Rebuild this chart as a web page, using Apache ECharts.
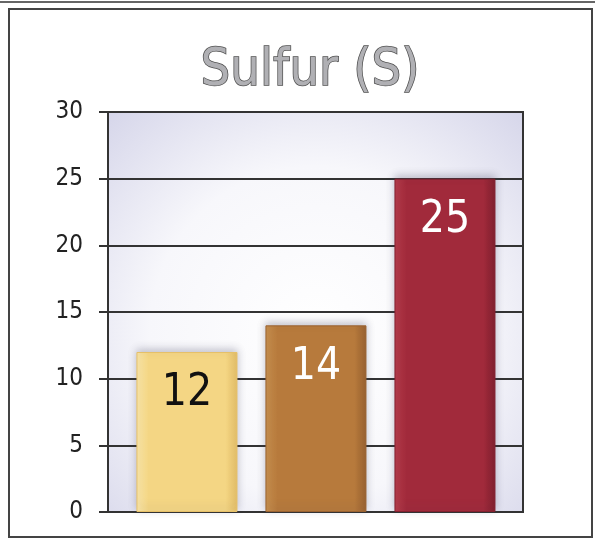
<!DOCTYPE html>
<html>
<head>
<meta charset="utf-8">
<script src="https://cdn.jsdelivr.net/npm/echarts@6/dist/echarts.min.js"></script>
<style>
  html, body { margin: 0; padding: 0; background: #fff; }
  #chart { width: 595px; height: 541px; }
</style>
</head>
<body>
<div id="chart"></div>
<script>
var categories = ['A', 'B', 'C'];
var values = [12, 14, 25];
var barColors = [
  ['#fbe7a8', '#f4d684', '#e6c068'],
  ['#c8904e', '#b77a3c', '#9a6230'],
  ['#b63c4a', '#a12a3b', '#82202e']
];
var labelColors = ['#111', '#fff', '#fff'];
var narrow = '"DejaVu Sans Condensed", "Liberation Sans Narrow", "Arial Narrow", sans-serif';

var chart = echarts.init(document.getElementById('chart'));

var seriesData = values.map(function (v, i) {
  var c = barColors[i];
  return {
    value: [i, v],
    name: categories[i],
    itemStyle: {
      color: new echarts.graphic.LinearGradient(0, 0, 1, 0, [
        { offset: 0, color: c[0] },
        { offset: 0.12, color: c[1] },
        { offset: 0.88, color: c[1] },
        { offset: 1, color: c[2] }
      ]),
      borderColor: c[2],
      borderWidth: 1,
      shadowColor: 'rgba(60,60,90,0.3)',
      shadowBlur: 8,
      shadowOffsetY: -3
    },
    label: { color: labelColors[i] }
  };
});

chart.setOption({
  backgroundColor: '#fff',
  title: {
    text: 'Sulfur (S)',
    left: 305,
    textAlign: 'center',
    top: 40,
    textStyle: {
      fontFamily: narrow,
      fontSize: 52,
      fontWeight: 'normal',
      color: '#b0b0b4',
      textBorderColor: '#505050',
      textBorderWidth: 1.5
    }
  },
  graphic: [
    {
      type: 'rect',
      shape: { x: 9, y: 9, width: 583, height: 528 },
      style: { fill: 'none', stroke: '#444', lineWidth: 2 },
      z: -1
    },
    {
      type: 'line',
      shape: { x1: 0, y1: 2, x2: 595, y2: 2 },
      style: { stroke: '#666', lineWidth: 2 }
    }
  ],
  grid: {
    left: 108, right: 72, top: 112, bottom: 29,
    show: true,
    borderColor: '#333',
    borderWidth: 2,
    backgroundColor: new echarts.graphic.RadialGradient(0.5, 0.55, 0.75, [
      { offset: 0, color: '#ffffff' },
      { offset: 0.55, color: '#f7f7fb' },
      { offset: 1, color: '#d6d6ea' }
    ])
  },
  xAxis: {
    type: 'value',
    min: -0.612,
    max: 2.605,
    axisLabel: { show: false },
    axisTick: { show: false },
    splitLine: { show: false },
    axisLine: { show: true, onZero: false, lineStyle: { color: '#333', width: 2 } }
  },
  yAxis: {
    type: 'value',
    min: 0,
    max: 30,
    interval: 5,
    axisLine: { show: true, onZero: false, lineStyle: { color: '#333', width: 2 } },
    axisTick: { show: true, length: 9, lineStyle: { color: '#333', width: 2 } },
    axisLabel: {
      fontFamily: narrow,
      fontSize: 24,
      color: '#222',
      margin: 25
    },
    splitLine: { lineStyle: { color: '#333', width: 2 } }
  },
  series: [{
    type: 'bar',
    data: seriesData,
    barWidth: 101,
    label: {
      show: true,
      position: 'insideTop',
      distance: 20,
      fontFamily: narrow,
      fontSize: 44,
      formatter: function (p) { return p.value[1]; }
    }
  }]
});
</script>
</body>
</html>
